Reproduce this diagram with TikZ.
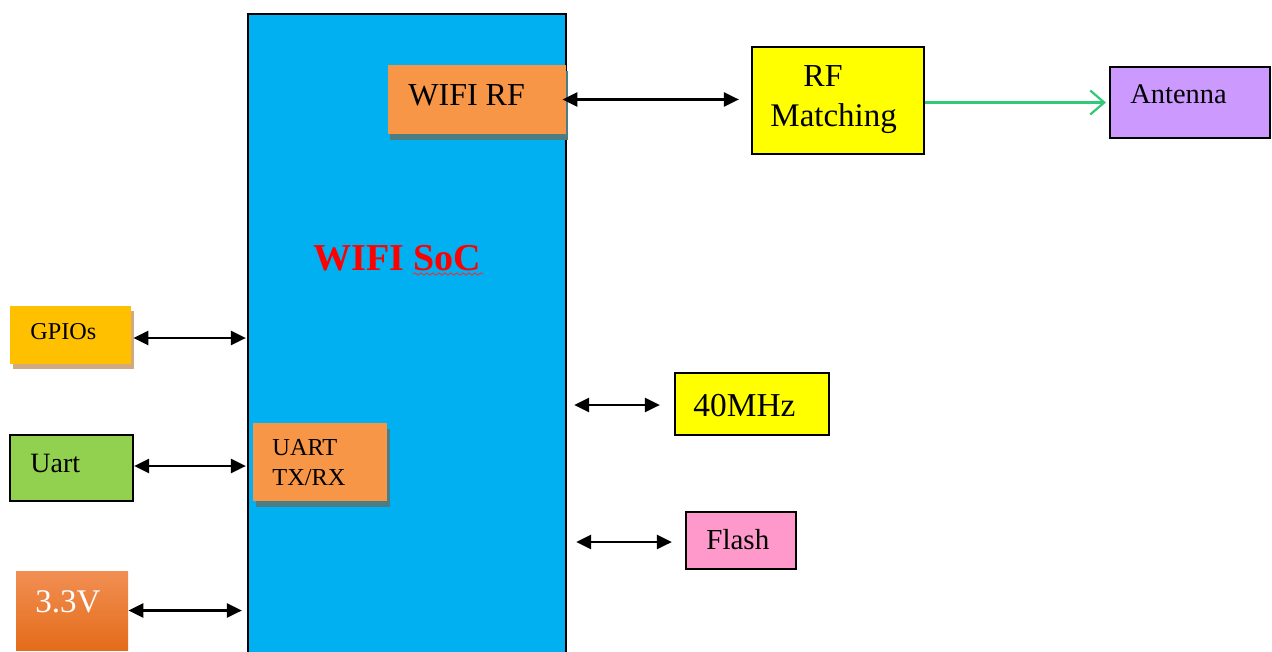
\documentclass[tikz,border=0pt]{standalone}
\usepackage{fontspec}
\setmainfont{Liberation Serif}
\usetikzlibrary{arrows.meta,shadows,decorations.pathmorphing}
\definecolor{soccyan}{RGB}{0,176,240}
\definecolor{blkorange}{RGB}{247,150,70}
\definecolor{rfyellow}{RGB}{255,255,0}
\definecolor{antpurple}{RGB}{204,153,255}
\definecolor{gpiogold}{RGB}{255,192,0}
\definecolor{uartgreen}{RGB}{146,208,80}
\definecolor{flashpink}{RGB}{255,153,204}
\definecolor{vtop}{RGB}{241,143,83}
\definecolor{vbot}{RGB}{228,108,26}
\definecolor{tealshadow}{RGB}{75,125,130}
\definecolor{brownshadow}{RGB}{210,170,130}
\definecolor{linkgreen}{RGB}{50,200,120}
\newcommand{\fs}[1]{\fontsize{#1}{#1}\selectfont}
\tikzset{
  box/.style={rectangle, draw=black, line width=1.1pt, inner sep=0pt},
  plainbox/.style={rectangle, draw=none, inner sep=0pt},
  lbl/.style={inner sep=0pt, anchor=base west, text=black},
  biarrow/.style={line width=1.3pt, {Triangle[length=7.5pt,width=7pt]}-{Triangle[length=7.5pt,width=7pt]}},
  greenarrow/.style={line width=1.2pt, draw=linkgreen, -{Straight Barb[length=7pt,width=12pt,line width=1.1pt]}},
}
\begin{document}
\begin{tikzpicture}[x=0.5pt,y=-0.5pt]
\useasboundingbox[fill=white] (0,0) rectangle (1272,652);
% main SoC
\node[box, fill=soccyan, minimum width=159pt, minimum height=323pt] (soc) at (407,337) {};
% WIFI RF block
\node[plainbox, fill=blkorange, minimum width=89pt, minimum height=34.5pt,
  drop shadow={shadow xshift=1pt, shadow yshift=-3pt, fill=tealshadow, opacity=1}] (wifirf) at (477,99.5) {};
\node[lbl] (wifirft) at (408,106) {\fs{16}WIFI RF};
% UART TX/RX block
\node[plainbox, fill=blkorange, minimum width=67pt, minimum height=39pt,
  drop shadow={shadow xshift=1.5pt, shadow yshift=-3pt, fill=tealshadow, opacity=1}] (uarttx) at (320,462) {};
\node[lbl] (uarttxa) at (272,455) {\fs{12.2}UART};
\node[lbl] (uarttxb) at (272,485) {\fs{12.2}TX/RX};
% SoC title
\node[lbl, text=red] (soct) at (313,270) {\fs{19}\bfseries WIFI SoC};
\coordinate (sqa) at (413,274);
\coordinate (sqb) at (483,274);
\draw[red!85!white, line width=0.4pt, decorate, decoration={snake, amplitude=0.6pt, segment length=3pt}] (sqa) -- (sqb);
% RF Matching
\node[box, fill=rfyellow, minimum width=86pt, minimum height=53.5pt] (rfm) at (838,100.5) {};
\node[lbl] (rfmt1) at (803,87) {\fs{16}RF};
\node[lbl] (rfmt2) at (770,127) {\fs{16.5}Matching};
% Antenna
\node[box, fill=antpurple, minimum width=80pt, minimum height=35.5pt] (ant) at (1190,102.5) {};
\node[lbl] (antt) at (1130,104) {\fs{14.2}Antenna};
% GPIOs
\node[plainbox, fill=gpiogold, minimum width=60.5pt, minimum height=29pt,
  drop shadow={shadow xshift=1.5pt, shadow yshift=-2.5pt, fill=brownshadow, opacity=1}] (gpio) at (70.5,335) {};
\node[lbl] (gpiot) at (30,339) {\fs{12.1}GPIOs};
% Uart
\node[box, fill=uartgreen, minimum width=61.5pt, minimum height=33pt] (uart) at (71.5,468) {};
\node[lbl] (uartt) at (30,472) {\fs{14}Uart};
% 3.3V
\node[plainbox, top color=vtop, bottom color=vbot, minimum width=56pt, minimum height=39.5pt] (vcc) at (72,610.5) {};
\node[lbl, text=white] (vcct) at (35,612) {\fs{16.5}3.3V};
% 40MHz
\node[box, fill=rfyellow, minimum width=77pt, minimum height=31pt] (mhz) at (752,404) {};
\node[lbl] (mhzt) at (693,416) {\fs{16.7}40MHz};
% Flash
\node[box, fill=flashpink, minimum width=55pt, minimum height=28.5pt] (flash) at (741,540.5) {};
\node[lbl] (flasht) at (706,549) {\fs{14.5}Flash};
% connectors
\draw[biarrow, shorten <=-2pt, shorten >=6pt] (wifirf.east) -- (wifirf.east -| rfm.west);
\draw[greenarrow, shorten >=1.5pt] ([yshift=-1pt]rfm.east) -- ([yshift=-1pt]rfm.east -| ant.west);
\draw[biarrow, shorten <=1pt, shorten >=0.5pt] ([yshift=-1.5pt]gpio.east) -- ([yshift=-1.5pt]gpio.east -| soc.west);
\draw[biarrow, shorten <=0pt, shorten >=0.5pt] ([yshift=1pt]uart.east) -- ([yshift=1pt]uart.east -| soc.west);
\draw[biarrow, shorten <=0pt, shorten >=2.5pt] (vcc.east) -- (vcc.east -| soc.west);
\draw[biarrow, shorten <=3.5pt, shorten >=7pt] ([yshift=-0.5pt]mhz.west -| soc.east) -- ([yshift=-0.5pt]mhz.west);
\draw[biarrow, shorten <=4.5pt, shorten >=6.5pt] ([yshift=-0.75pt]flash.west -| soc.east) -- ([yshift=-0.75pt]flash.west);
\end{tikzpicture}
\end{document}
